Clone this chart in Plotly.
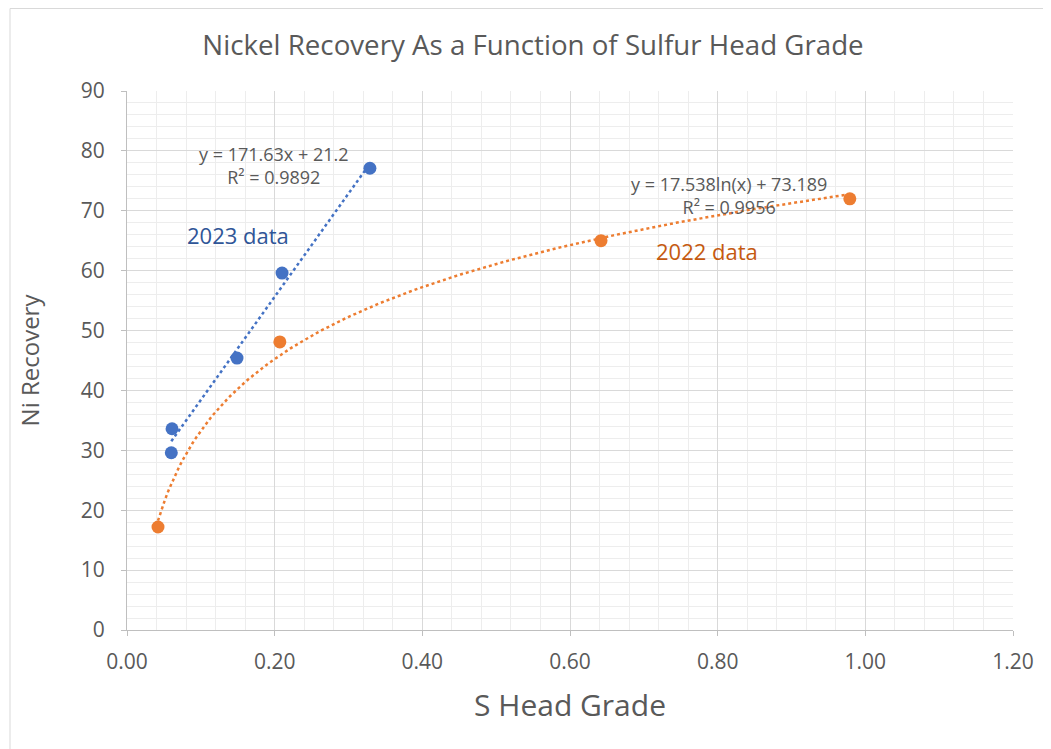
import numpy as np
import plotly.graph_objects as go

# 2023 data
x_2023 = [0.061, 0.060, 0.149, 0.210, 0.329]
y_2023 = [33.6, 29.6, 45.4, 59.6, 77.1]
# 2022 data
x_2022 = [0.042, 0.207, 0.642, 0.979]
y_2022 = [17.2, 48.1, 65.0, 72.0]

eq_2023 = "y = 171.63x + 21.2<br>R² = 0.9892"
eq_2022 = "y = 17.538ln(x) + 73.189<br>R² = 0.9956"

x_ticks = [0, 0.2, 0.4, 0.6, 0.8, 1.0, 1.2]
y_ticks = [0, 10, 20, 30, 40, 50, 60, 70, 80, 90]

BLUE = "#4472C4"
ORANGE = "#ED7D31"
GREY = "#595959"
FONT = "Open Sans"

# Fitted trendlines (least squares, like Excel)
b1, a1 = np.polyfit(x_2023, y_2023, 1)
tx1 = np.linspace(min(x_2023), max(x_2023), 50)
ty1 = b1 * tx1 + a1

b2, a2 = np.polyfit(np.log(x_2022), y_2022, 1)
tx2 = np.linspace(min(x_2022), max(x_2022), 200)
ty2 = b2 * np.log(tx2) + a2

fig = go.Figure()
fig.add_trace(go.Scatter(x=tx1, y=ty1, mode="lines",
                         line=dict(color=BLUE, width=2.5, dash="dot"),
                         hoverinfo="skip", showlegend=False))
fig.add_trace(go.Scatter(x=tx2, y=ty2, mode="lines",
                         line=dict(color=ORANGE, width=2.5, dash="dot"),
                         hoverinfo="skip", showlegend=False))
fig.add_trace(go.Scatter(x=x_2023, y=y_2023, mode="markers",
                         marker=dict(color=BLUE, size=13), name="2023 data",
                         showlegend=False))
fig.add_trace(go.Scatter(x=x_2022, y=y_2022, mode="markers",
                         marker=dict(color=ORANGE, size=13), name="2022 data",
                         showlegend=False))

fig.add_annotation(x=0.199, y=77.5, text=eq_2023, showarrow=False,
                   font=dict(family=FONT, size=18, color=GREY), align="center")
fig.add_annotation(x=0.150, y=66.0, text="2023 data", showarrow=False,
                   font=dict(family=FONT, size=22, color="#2F5597"))
fig.add_annotation(x=0.815, y=72.5, text=eq_2022, showarrow=False,
                   font=dict(family=FONT, size=18, color=GREY), align="center")
fig.add_annotation(x=0.785, y=63.3, text="2022 data", showarrow=False,
                   font=dict(family=FONT, size=22, color="#C55A11"))

# page body has an 8px margin, so the figure is placed at (8, 8)
W, H = 1043, 741
L, R, T, B = 119, 38, 83, 119
pw, ph = W - L - R, H - T - B
# chart border
fig.add_shape(type="rect", xref="paper", yref="paper",
              x0=(2 - L) / pw, x1=(W + 20 - L) / pw,
              y0=-(B + 20) / ph, y1=(H - 0.5 - B) / ph,
              line=dict(color="#D9D9D9", width=1), layer="below")

fig.update_layout(
    width=W, height=H,
    margin=dict(l=L, r=R, t=T, b=B),
    paper_bgcolor="white", plot_bgcolor="white",
    title=dict(text="Nickel Recovery As a Function of Sulfur Head Grade",
               x=(533 - 8) / W, xanchor="center", xref="container",
               y=1 - 37 / H, yanchor="middle",
               font=dict(family=FONT, size=27.7, color=GREY)),
    font=dict(family=FONT, color=GREY),
    xaxis=dict(range=[0, 1.2], tickvals=x_ticks,
               ticktext=[f"{v:.2f}" for v in x_ticks],
               tickfont=dict(size=21, color=GREY),
               showgrid=True, gridcolor="#D9D9D9", gridwidth=1,
               minor=dict(dtick=0.04, showgrid=True, gridcolor="#EDEDED", gridwidth=1),
               showline=True, linecolor="#BFBFBF", linewidth=1,
               ticks="outside", ticklen=5, tickcolor="#BFBFBF",
               ticklabelstandoff=8,
               zeroline=False,
               title=dict(text="S Head Grade", font=dict(size=30, color=GREY), standoff=20)),
    yaxis=dict(range=[0, 90], tickvals=y_ticks,
               tickfont=dict(size=21, color=GREY),
               showgrid=True, gridcolor="#D9D9D9", gridwidth=1,
               minor=dict(dtick=2, showgrid=True, gridcolor="#EDEDED", gridwidth=1),
               showline=True, linecolor="#BFBFBF", linewidth=1,
               ticks="outside", ticklen=5, tickcolor="#BFBFBF",
               ticklabelstandoff=12,
               zeroline=False,
               title=dict(text="Ni Recovery", font=dict(size=24, color=GREY), standoff=34)),
)

fig.write_html("out.html")
